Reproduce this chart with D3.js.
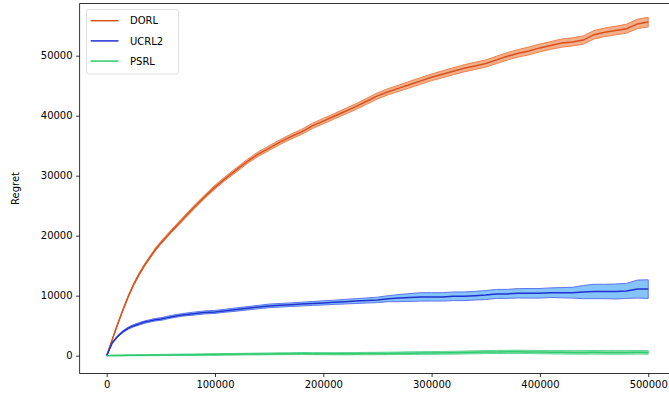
<!DOCTYPE html>
<html>
<head>
<meta charset="utf-8">
<script src="https://cdn.jsdelivr.net/npm/d3@7"></script>
<style>
  body { margin: 0; background: #fff; }
  svg { display: block; font-family: "DejaVu Sans", sans-serif; }
</style>
</head>
<body>
<div id="chart"></div>
<script>
// ---------------- data ----------------
var steps = [0, 5000, 10000, 15000, 20000, 25000, 30000, 35000, 40000, 45000, 50000, 55000, 60000,
  70000, 80000, 90000, 100000, 110000, 120000,
  130000, 140000, 150000, 160000, 170000, 180000, 190000, 200000, 210000, 220000,
  230000, 240000, 250000, 260000, 270000, 280000, 290000, 300000, 310000, 320000,
  330000, 340000, 350000, 360000, 370000, 380000, 390000, 400000, 410000, 420000,
  430000, 440000, 450000, 460000, 470000, 480000, 490000, 500000];

var seriesNames = ["DORL", "UCRL2", "PSRL"];

// mean regret, thousands
var dorlMean = [0, 2.6, 5.2, 7.6, 9.9, 11.9, 13.6, 15.1, 16.4, 17.7, 18.8, 19.8, 20.8,
  22.7, 24.6, 26.4, 28.1, 29.6, 31.0,
  32.4, 33.6, 34.6, 35.6, 36.5, 37.3, 38.3, 39.1, 39.9, 40.7,
  41.5, 42.4, 43.3, 44.0, 44.6, 45.2, 45.8, 46.4, 46.9, 47.4,
  47.9, 48.3, 48.7, 49.3, 49.9, 50.4, 50.8, 51.3, 51.7, 52.1,
  52.3, 52.6, 53.5, 53.9, 54.2, 54.5, 55.3, 55.6];
var ucrlMean = [0, 2.1, 3.2, 4.0, 4.6, 5.0, 5.3, 5.6, 5.8, 6.0, 6.1, 6.3, 6.5,
  6.8, 7.0, 7.2, 7.3, 7.5, 7.7,
  7.9, 8.1, 8.3, 8.4, 8.5, 8.6, 8.7, 8.8, 8.9, 9.0,
  9.1, 9.2, 9.3, 9.5, 9.6, 9.7, 9.8, 9.8, 9.8, 9.9,
  9.9, 10.0, 10.1, 10.3, 10.3, 10.4, 10.4, 10.4, 10.5, 10.5,
  10.5, 10.6, 10.7, 10.7, 10.7, 10.8, 11.1, 11.1];
var psrlMean = [0, 0.02, 0.04, 0.05, 0.06, 0.07, 0.08, 0.09, 0.1, 0.105, 0.11, 0.12, 0.13,
  0.15, 0.16, 0.18, 0.2, 0.22, 0.24,
  0.26, 0.28, 0.3, 0.32, 0.33, 0.35, 0.34, 0.33, 0.32, 0.33,
  0.34, 0.35, 0.36, 0.38, 0.4, 0.42, 0.44, 0.46, 0.48, 0.5,
  0.53, 0.56, 0.6, 0.62, 0.64, 0.65, 0.62, 0.6, 0.58, 0.56,
  0.55, 0.55, 0.56, 0.55, 0.54, 0.55, 0.56, 0.55];

// half width of the shaded band, thousands
var dorlSpread = [0, 0.05, 0.1, 0.12, 0.15, 0.17, 0.2, 0.2, 0.22, 0.23, 0.25, 0.25, 0.25,
  0.28, 0.3, 0.3, 0.32, 0.32, 0.35,
  0.35, 0.38, 0.4, 0.4, 0.42, 0.42, 0.45, 0.45, 0.45, 0.48,
  0.48, 0.5, 0.5, 0.52, 0.52, 0.55, 0.55, 0.55, 0.58, 0.58,
  0.6, 0.6, 0.6, 0.62, 0.62, 0.62, 0.65, 0.65, 0.65, 0.68,
  0.68, 0.7, 0.7, 0.72, 0.72, 0.75, 0.78, 0.8];
var ucrlSpread = [0, 0.1, 0.12, 0.15, 0.18, 0.19, 0.2, 0.2, 0.2, 0.21, 0.22, 0.22, 0.22,
  0.22, 0.25, 0.25, 0.25, 0.25, 0.28,
  0.28, 0.28, 0.3, 0.3, 0.3, 0.32, 0.32, 0.35, 0.35, 0.38,
  0.4, 0.42, 0.45, 0.5, 0.6, 0.65, 0.7, 0.7, 0.7, 0.72,
  0.72, 0.72, 0.75, 0.75, 0.75, 0.78, 0.8, 0.8, 0.8, 0.85,
  0.9, 1.1, 1.2, 1.2, 1.25, 1.25, 1.5, 1.55];
var psrlSpread = [0, 0.05, 0.06, 0.07, 0.08, 0.08, 0.09, 0.09, 0.1, 0.1, 0.1, 0.1, 0.11,
  0.11, 0.12, 0.12, 0.13, 0.13, 0.14,
  0.14, 0.15, 0.15, 0.16, 0.16, 0.17, 0.17, 0.18, 0.18, 0.19,
  0.19, 0.2, 0.2, 0.21, 0.21, 0.22, 0.22, 0.23, 0.23, 0.24,
  0.24, 0.25, 0.25, 0.26, 0.26, 0.27, 0.27, 0.28, 0.28, 0.29,
  0.29, 0.3, 0.3, 0.3, 0.3, 0.3, 0.3, 0.3];

var yTicks = [0, 10000, 20000, 30000, 40000, 50000];
var xTicks = [0, 100000, 200000, 300000, 400000, 500000];

// ---------------- drawing ----------------
var W = 669, H = 401;
var svg = d3.select("#chart").append("svg").attr("width", W).attr("height", H);

var x = d3.scaleLinear().domain([-25000, 525000]).range([79.6, 675.3]);
var y = d3.scaleLinear().domain([-2970, 58700]).range([373.5, 3.5]);

var series = [
  {name: seriesNames[0], mean: dorlMean, spread: dorlSpread, line: "#d4531f", fill: "#f6ae88", edge: "#e98350"},
  {name: seriesNames[1], mean: ucrlMean, spread: ucrlSpread, line: "#2230cf", fill: "#84c4f8", edge: "#5f74ee"},
  {name: seriesNames[2], mean: psrlMean, spread: psrlSpread, line: "#2ecc71", fill: "#95e3b4", edge: "#62d58f"}
];

var area = d3.area()
  .x(function(d) { return x(d.t); })
  .y0(function(d) { return y(d.lo); })
  .y1(function(d) { return y(d.hi); });
var line = d3.line()
  .x(function(d) { return x(d.t); })
  .y(function(d) { return y(d.v); });

series.forEach(function(s) {
  var pts = steps.map(function(t, i) {
    return {t: t, v: s.mean[i] * 1000, lo: (s.mean[i] - s.spread[i]) * 1000, hi: (s.mean[i] + s.spread[i]) * 1000};
  });
  svg.append("path").datum(pts)
    .attr("d", area)
    .attr("fill", s.fill)
    .attr("stroke", s.edge)
    .attr("stroke-width", 1);
  svg.append("path").datum(pts)
    .attr("d", line)
    .attr("fill", "none")
    .attr("stroke", s.line)
    .attr("stroke-width", 1.5);
});

// axes (left + bottom, spines on top/right as plain lines)
var yAxis = svg.append("g").attr("transform", "translate(79.6,0)")
  .call(d3.axisLeft(y).tickValues(yTicks).tickSize(3.5).tickPadding(3.5).tickFormat(d3.format("d")));
var xAxis = svg.append("g").attr("transform", "translate(0,373.5)")
  .call(d3.axisBottom(x).tickValues(xTicks).tickSize(3.5).tickPadding(3.5).tickFormat(d3.format("d")));
[yAxis, xAxis].forEach(function(g) {
  g.selectAll(".domain").attr("stroke", "#000").attr("stroke-width", 0.8);
  g.selectAll(".tick line").attr("stroke", "#000").attr("stroke-width", 0.8);
  g.selectAll("text").attr("font-size", 10).attr("font-family", "DejaVu Sans").attr("fill", "#000");
});
xAxis.select(".domain").attr("d", "M79.6,0H675.3");
yAxis.select(".domain").attr("d", "M0,3.5V373.5");
svg.append("line").attr("x1", 79.6).attr("x2", 675.3).attr("y1", 3.5).attr("y2", 3.5)
  .attr("stroke", "#000").attr("stroke-width", 0.8);
svg.append("line").attr("x1", 675.3).attr("x2", 675.3).attr("y1", 3.5).attr("y2", 373.5)
  .attr("stroke", "#000").attr("stroke-width", 0.8);

svg.append("text")
  .attr("transform", "translate(19,188.5) rotate(-90)")
  .attr("text-anchor", "middle")
  .attr("font-size", 10)
  .text("Regret");

// legend
var leg = svg.append("g");
leg.append("rect")
  .attr("x", 86.5).attr("y", 9.5).attr("width", 92).attr("height", 64.5)
  .attr("rx", 2.5).attr("fill", "#fff").attr("fill-opacity", 0.8)
  .attr("stroke", "#d6d6d6").attr("stroke-width", 0.8);
series.forEach(function(s, i) {
  var ly = 20.7 + i * 20.2;
  leg.append("line").attr("x1", 90.7).attr("x2", 118.5).attr("y1", ly).attr("y2", ly)
    .attr("stroke", s.line).attr("stroke-width", 1.5);
  leg.append("text").attr("x", 130).attr("y", ly + 3.6)
    .attr("font-size", 10).text(s.name);
});
</script>
</body>
</html>
